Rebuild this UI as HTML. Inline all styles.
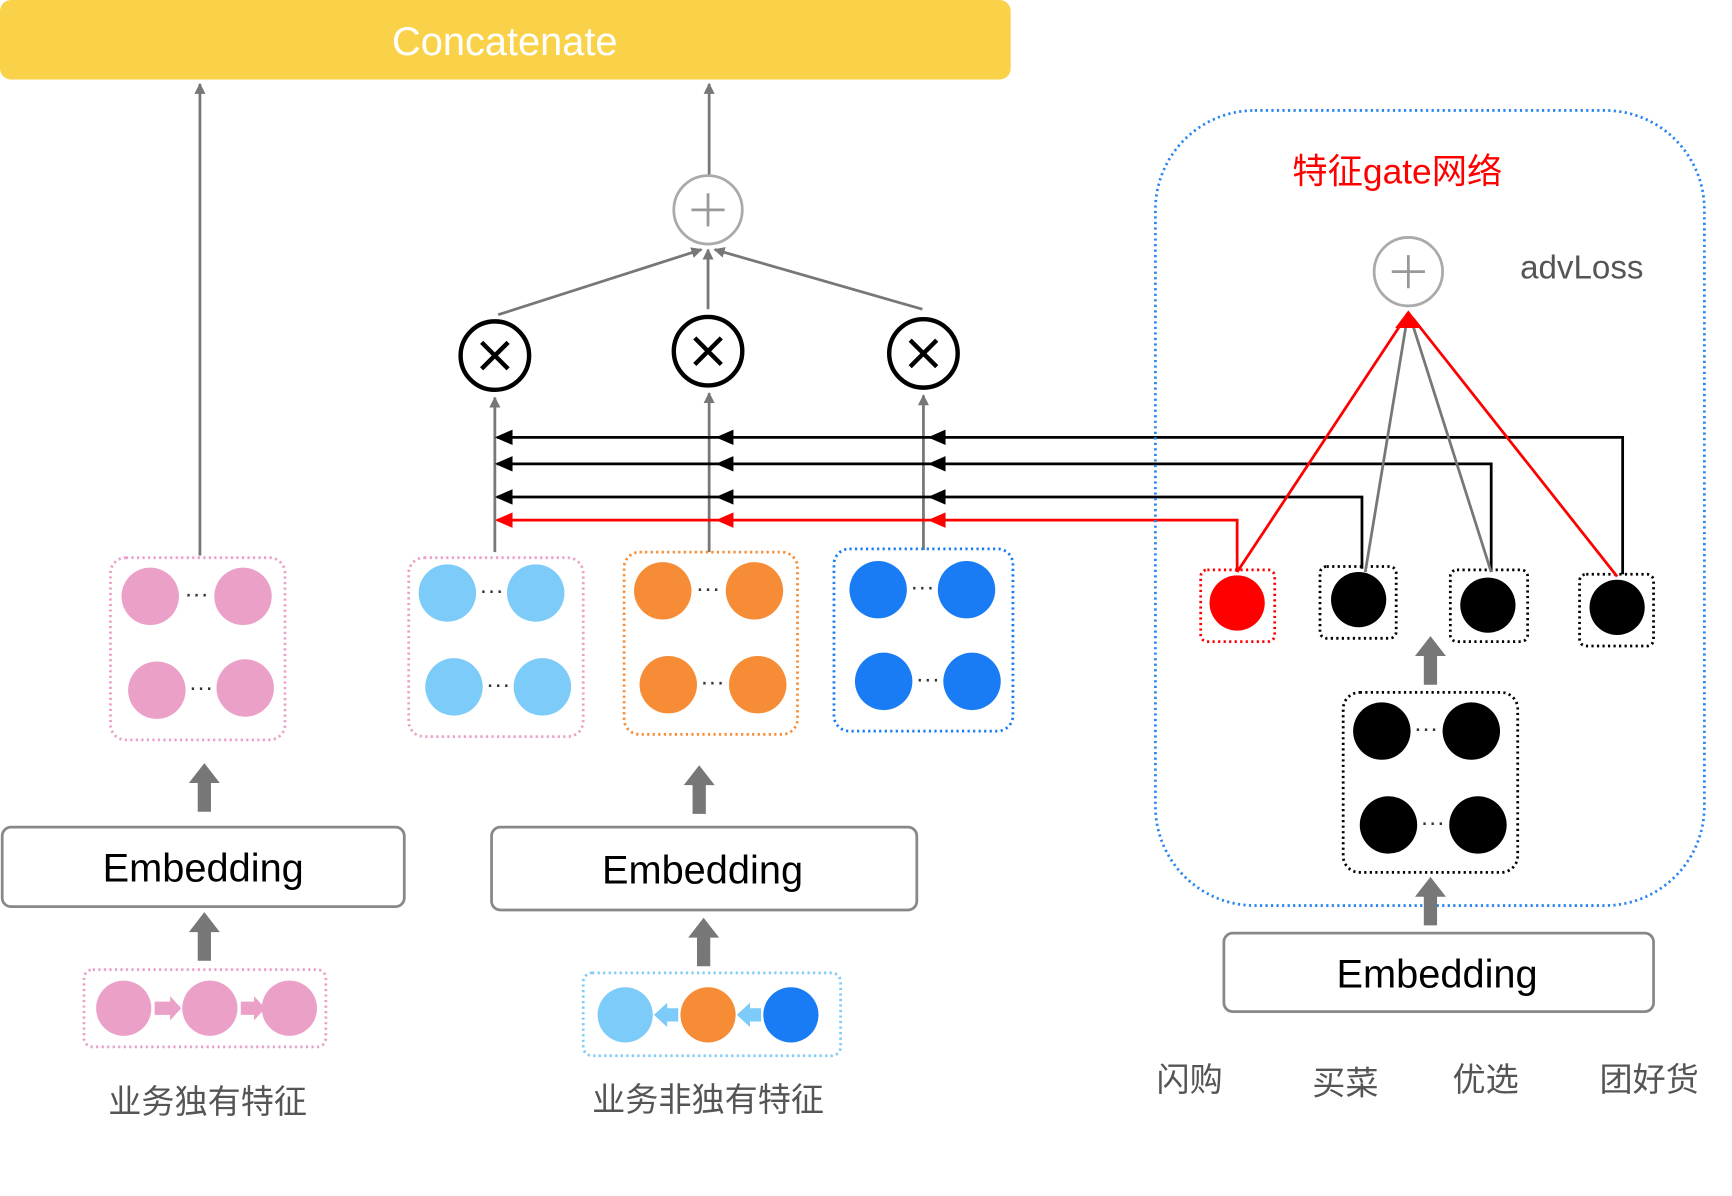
<!DOCTYPE html>
<html><head><meta charset="utf-8"><style>
html,body{margin:0;padding:0;background:#fff;}
svg{display:block;}
text{font-family:"Liberation Sans","Noto Sans CJK SC",sans-serif;}
</style></head><body>
<svg width="1732" height="1196" viewBox="0 0 1568 1083" preserveAspectRatio="none" xmlns="http://www.w3.org/2000/svg">
<defs>
<marker id="ag" markerWidth="10" markerHeight="10" refX="9" refY="5" orient="auto" markerUnits="userSpaceOnUse"><path d="M0,0 L10,5 L0,10 z" fill="#777"/></marker>
<marker id="ab" viewBox="0 0 10 10" markerWidth="14" markerHeight="12" refX="1" refY="5" orient="auto" markerUnits="userSpaceOnUse"><path d="M10,0 L0,5 L10,10 z" fill="#000"/></marker>
<marker id="ar" viewBox="0 0 10 10" markerWidth="14" markerHeight="12" refX="1" refY="5" orient="auto" markerUnits="userSpaceOnUse"><path d="M10,0 L0,5 L10,10 z" fill="#f00"/></marker>
<g id="thick"><path d="M-6,0 L-6,-26 L-14,-26 L0,-44 L14,-26 L6,-26 L6,0 z" fill="#777"/></g>
</defs>
<rect x="0" y="0" width="915" height="72" rx="10" fill="#f9d24a"/>
<text x="457" y="50" font-size="36" fill="#fff" text-anchor="middle">Concatenate</text>

<g stroke="#777" stroke-width="2.5" fill="none">
<line x1="181" y1="503" x2="181" y2="76" marker-end="url(#ag)"/>
<line x1="642" y1="158" x2="642" y2="76" marker-end="url(#ag)"/>
<line x1="451" y1="285" x2="635" y2="226" marker-end="url(#ag)"/>
<line x1="641" y1="280" x2="641" y2="226" marker-end="url(#ag)"/>
<line x1="835" y1="280" x2="647" y2="226" marker-end="url(#ag)"/>
<line x1="448" y1="500" x2="448" y2="360" marker-end="url(#ag)"/>
<line x1="642" y1="500" x2="642" y2="356" marker-end="url(#ag)"/>
<line x1="836" y1="498" x2="836" y2="358" marker-end="url(#ag)"/>
</g>
<circle cx="641" cy="190" r="31" fill="#fff" stroke="#aaa" stroke-width="2.5"/>
<path d="M626,190 H656 M641,175 V205" stroke="#999" stroke-width="2.5"/>
<g fill="#fff" stroke="#000" stroke-width="4">
<circle cx="448" cy="322" r="31"/><circle cx="641" cy="318" r="31"/><circle cx="836" cy="320" r="31"/>
</g>
<g stroke="#000" stroke-width="4">
<path d="M436,310 L460,334 M460,310 L436,334"/><path d="M629,306 L653,330 M653,306 L629,330"/><path d="M824,308 L848,332 M848,308 L824,332"/>
</g>

<!-- horizontal connectors -->
<g fill="none" stroke-width="2.5">
<path d="M1469,520 V396 H450" stroke="#000"/>
<path d="M1350,518 V420 H450" stroke="#000"/>
<path d="M1233,515 V450 H450" stroke="#000"/>
<path d="M1120,518 V471 H450" stroke="#f00"/>
</g>
<g fill="#000">
<path d="M448,396 l16,-7 v14z"/><path d="M648,396 l16,-7 v14z"/><path d="M840,396 l16,-7 v14z"/>
<path d="M448,420 l16,-7 v14z"/><path d="M648,420 l16,-7 v14z"/><path d="M840,420 l16,-7 v14z"/>
<path d="M448,450 l16,-7 v14z"/><path d="M648,450 l16,-7 v14z"/><path d="M840,450 l16,-7 v14z"/>
</g>
<g fill="#f00">
<path d="M448,471 l16,-7 v14z"/><path d="M648,471 l16,-7 v14z"/><path d="M840,471 l16,-7 v14z"/>
</g>

<!-- feature boxes -->
<g fill="none" stroke-width="2.5" stroke-dasharray="2,3">
<rect x="100" y="505" width="158" height="165" rx="14" stroke="#eba0c8"/>
<rect x="370" y="505" width="158" height="162" rx="14" stroke="#eba0c8"/>
<rect x="565" y="500" width="157" height="165" rx="14" stroke="#f68c35"/>
<rect x="755" y="497" width="162" height="165" rx="14" stroke="#1a7cf5"/>
<rect x="76" y="878" width="219" height="70" rx="8" stroke="#eba0c8"/>
<rect x="528" y="881" width="233" height="75" rx="8" stroke="#7ccbf8"/>
<rect x="1087" y="516" width="67" height="65" rx="6" stroke="#f00"/>
<rect x="1195" y="513" width="69" height="65" rx="6" stroke="#000"/>
<rect x="1313" y="516" width="70" height="65" rx="6" stroke="#000"/>
<rect x="1430" y="520" width="67" height="65" rx="6" stroke="#000"/>
<rect x="1216" y="627" width="158" height="163" rx="15" stroke="#000"/>
<rect x="1046" y="100" width="497" height="720" rx="90" stroke="#2a86f0"/>
</g>
<g fill="#eba0c8"><circle cx="136" cy="540" r="26"/><circle cx="220" cy="540" r="26"/><circle cx="142" cy="625" r="26"/><circle cx="222" cy="623" r="26"/>
<circle cx="112" cy="913" r="25"/><circle cx="190" cy="913" r="25"/><circle cx="262" cy="913" r="25"/></g>
<g fill="#7ccbf8"><circle cx="405" cy="537" r="26"/><circle cx="485" cy="537" r="26"/><circle cx="411" cy="622" r="26"/><circle cx="491" cy="622" r="26"/><circle cx="566" cy="919" r="25"/></g>
<g fill="#f68c35"><circle cx="600" cy="535" r="26"/><circle cx="683" cy="535" r="26"/><circle cx="605" cy="620" r="26"/><circle cx="686" cy="620" r="26"/><circle cx="641" cy="919" r="25"/></g>
<g fill="#1a7cf5"><circle cx="795" cy="534" r="26"/><circle cx="875" cy="534" r="26"/><circle cx="800" cy="617" r="26"/><circle cx="880" cy="617" r="26"/><circle cx="716" cy="919" r="25"/></g>
<g fill="#000"><circle cx="1230" cy="543" r="25"/><circle cx="1347" cy="548" r="25"/><circle cx="1464" cy="550" r="25"/>
<circle cx="1251" cy="662" r="26"/><circle cx="1332" cy="662" r="26"/><circle cx="1257" cy="747" r="26"/><circle cx="1338" cy="747" r="26"/></g>
<circle cx="1120" cy="546" r="25" fill="#f00"/>
<g font-size="22" fill="#333" text-anchor="middle">
<text x="178" y="545">···</text><text x="182" y="630">···</text><text x="445" y="542">···</text><text x="451" y="627">···</text>
<text x="641" y="540">···</text><text x="645" y="625">···</text><text x="835" y="539">···</text><text x="840" y="622">···</text>
<text x="1291" y="667">···</text><text x="1297" y="752">···</text></g>
<g fill="#eba0c8"><path d="M140,907 h14 v-5 l10,11 l-10,11 v-5 h-14z"/><path d="M218,907 h12 v-5 l10,11 l-10,11 v-5 h-12z"/></g>
<g fill="#7ccbf8"><path d="M614,913 h-10 v-5 l-12,11 l12,11 v-5 h10z"/><path d="M689,913 h-10 v-5 l-12,11 l12,11 v-5 h10z"/></g>

<!-- thick arrows -->
<use href="#thick" transform="translate(185,735)"/>
<use href="#thick" transform="translate(633,737)"/>
<use href="#thick" transform="translate(185,870)"/>
<use href="#thick" transform="translate(637,875)"/>
<use href="#thick" transform="translate(1295,620)"/>
<use href="#thick" transform="translate(1295,838)"/>

<!-- embeddings -->
<g fill="#fff" stroke="#888" stroke-width="2.5">
<rect x="2" y="749" width="364" height="72" rx="8"/>
<rect x="445" y="749" width="385" height="75" rx="8"/>
<rect x="1108" y="845" width="389" height="71" rx="8"/>
</g>
<g font-size="36" fill="#000" text-anchor="middle">
<text x="184" y="798">Embedding</text><text x="636" y="800">Embedding</text><text x="1301" y="894">Embedding</text></g>

<!-- gate -->
<text x="1265" y="166" font-size="32" fill="#f00" text-anchor="middle">特征gate网络</text>
<text x="1432" y="252" font-size="30" fill="#555" text-anchor="middle">advLoss</text>
<g stroke-width="2.5" fill="none">
<line x1="1120" y1="518" x2="1272" y2="288" stroke="#f00"/>
<line x1="1236" y1="518" x2="1274" y2="288" stroke="#777"/>
<line x1="1350" y1="518" x2="1277" y2="288" stroke="#777"/>
<line x1="1464" y1="522" x2="1279" y2="288" stroke="#f00"/>
</g>
<path d="M1263,297 L1275,281 L1287,297z" fill="#f00"/>
<circle cx="1275" cy="246" r="31" fill="#fff" stroke="#aaa" stroke-width="2.5"/>
<path d="M1260,246 H1290 M1275,231 V261" stroke="#999" stroke-width="2.5"/>

<g font-size="30" fill="#555" text-anchor="middle">
<text x="188" y="1008">业务独有特征</text><text x="641" y="1006">业务非独有特征</text>
<text x="1077" y="988">闪购</text><text x="1218" y="991">买菜</text><text x="1345" y="988">优选</text><text x="1493" y="988">团好货</text></g>
</svg>
</body></html>
